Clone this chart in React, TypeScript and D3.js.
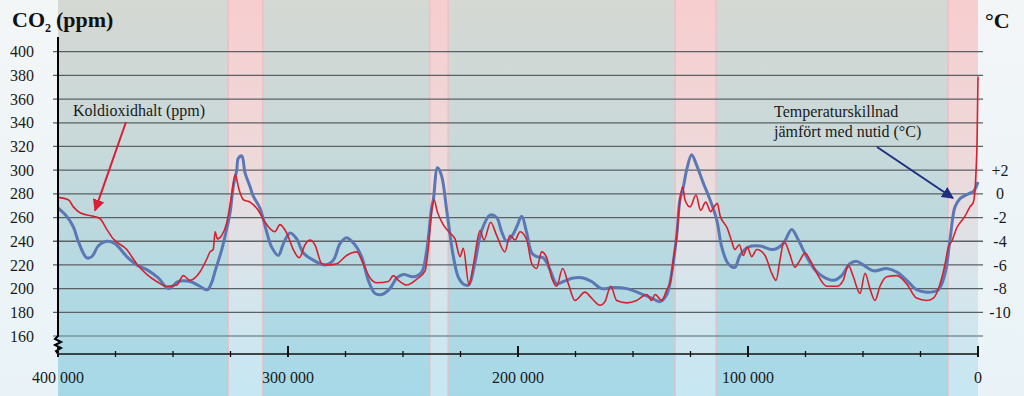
import React from "react";
import * as d3 from "d3";

// ---- data (thousands of years ago) ----
const co2Ago = [399.9,395.5,393.3,390.4,384.7,381.7,378.8,376,370.1,365.8,361.4,357.1,352.7,348.4,345.5,342.6,338.3,335.3,333.9,332.5,331.7,330.7,328.8,326.7,324.5,323,321.2,319.4,316.5,312.9,310,305.7,303.5,300.6,297.7,295.1,292.6,290.4,288.3,285.3,282.5,278.8,274.5,270.1,267.3,264.3,261.4,256.4,254.2,252,248.4,244,240.4,239,237.5,236.5,235.1,232.5,229.6,227.4,225.2,223.8,221.3,219.4,216.5,214.8,211.9,209.3,205.7,203.5,201.3,199.1,196.2,194,191.9,189.7,187.5,185.3,183.2,180.6,178.1,175.2,170.9,168,164.3,162.2,159.7,157.1,152.7,148.4,144,141.9,140.4,137.5,135.3,133.6,132.5,131,129.9,128.4,127.4,125.2,122.6,120.6,118.4,116.2,114.8,113.3,112.2,109,107.1,105.7,103.8,102,100.3,98.4,96.2,92.6,89.7,87.8,86.1,84.3,82,79.6,77.7,75.2,73,70.1,65.8,61.4,58.6,56.4,54.2,51.3,49.1,47,44.8,42.6,39.7,35.3,31,26.7,22.3,19.4,16.5,14.3,12.9,11.4,9.3,5.7,3.5,2,0.9,0.4,0];
const co2Ppm = [277,275,269,264,261,259,250,242,233,221,212,206,202,203,211,207,214,225,231,233,248,242,245,255,279,296,283,275,273,266,256,248,254,247,233,226,237,241,237,221,220,221,228,231,221,209,205,206,211,207,203,208,215,234,266,275,265,254,247,242,227,234,203,220,249,241,256,245,231,245,241,248,241,221,217,231,226,209,202,217,204,190,197,192,186,189,202,190,188,190,195,190,195,190,199,207,224,244,269,286,275,269,279,266,273,265,269,272,262,251,240,233,237,228,235,227,233,228,213,207,224,240,230,218,223,230,224,213,202,202,207,220,210,196,213,200,190,202,210,211,204,192,190,192,204,221,235,240,251,261,269,273,297,325,379];

const tempAgo = [399.9,396.2,393.3,391.2,387.5,385.3,382.5,378.8,375.2,370.1,365.8,361.4,356.4,352,347.7,342.6,338.3,335.1,333.2,331.5,328.8,326.7,325.2,323.8,322.3,321.6,320.1,318.7,316.5,315.1,312.2,309.3,307.1,304.2,302,299.1,296.2,293.3,289,283.9,280.3,277.4,274.5,270.9,268,265.1,262.2,259.3,255.7,252.7,249.9,245.5,241.9,239.8,237.5,236.8,235,233.2,231,228.1,226,223.8,221.5,218.9,215.8,212.2,209.3,207.1,204.9,202.7,200.6,198.4,196.2,194,191.9,189,186.1,183.2,180.3,176,171.6,168,163.6,158.6,152.7,147,141.9,138.3,135.3,133.2,131,129.6,128.1,126.7,124.5,122.3,119.4,116.5,113.6,111.4,108.6,105.7,103.5,99.9,94.8,89,84.7,81,78.1,74.5,70.9,67.3,62.9,59.3,55.7,52.7,49.9,45.5,39.7,35.3,31,26.7,22.3,17.3,14.3,12.2,10,7.8,4.2,2,0];
const tempC = [-1.2,-1.9,-2.8,-4.0,-5.4,-5.3,-4.4,-4.0,-4.2,-5.3,-6.0,-6.4,-7.1,-8.0,-7.4,-7.4,-7.8,-8.1,-7.5,-6.4,-4.7,-3.0,-1.6,0.6,2.0,3.0,3.2,1.8,0.6,-0.2,-1.2,-3.2,-4.5,-5.2,-4.2,-3.3,-3.8,-5.0,-5.6,-6.0,-5.6,-4.2,-3.7,-4.3,-5.3,-7.3,-8.4,-8.5,-8.0,-7.1,-6.8,-7.0,-6.6,-4.9,-1.1,-0.5,2.2,1.5,-1.4,-5.3,-7.0,-7.6,-7.7,-6.0,-3.1,-1.8,-2.0,-3.2,-4.0,-3.6,-2.8,-1.9,-3.3,-5.0,-5.3,-5.4,-6.4,-7.6,-7.4,-7.1,-7.1,-7.4,-8.0,-7.9,-8.0,-8.4,-8.8,-9.1,-8.5,-6.7,-3.5,-0.5,0.6,2.0,3.3,2.4,0.9,-0.5,-2.2,-4.5,-5.9,-6.2,-5.2,-4.5,-4.4,-4.7,-4.2,-3.0,-3.9,-5.3,-6.4,-7.0,-7.3,-6.9,-5.9,-5.7,-6.0,-6.5,-6.3,-6.6,-7.3,-8.1,-8.3,-8.1,-6.7,-3.9,-1.1,-0.4,0.0,0.2,1.0];

// interglacial periods [start, end] in kyr ago
const warmStart = [326, 238.3, 131.7, 13];
const warmEnd = [311, 230.4, 113.9, 0];

const ppmTicks = [160,180,200,220,240,260,280,300,320,340,360,380,400];
const tempTicks = [2,0,-2,-4,-6,-8,-10];
const yearTicks = [400,300,200,100,0];
const yearLabels = ["400 000","300 000","200 000","100 000","0"];
const minorYearTicks = d3.range(0, 401, 25);

const FONT = "'Liberation Serif', 'Times New Roman', serif";

export default function App() {
  const W = 1024, H = 396;
  const x = d3.scaleLinear().domain([400, 0]).range([58, 978]);
  const y = d3.scaleLinear().domain([160, 400]).range([336, 51.7]);
  const yT = d3.scaleLinear().domain([-12, 12]).range([336, 51.7]);
  const axisY = 354;

  const co2 = co2Ago.map((a, i) => [a, co2Ppm[i]] as [number, number]);
  const temp = tempAgo.map((a, i) => [a, tempC[i]] as [number, number]);

  const co2Line = d3.line<[number, number]>()
    .x(d => x(d[0])).y(d => y(d[1])).curve(d3.curveMonotoneX);
  const tempLine = d3.line<[number, number]>()
    .x(d => x(d[0])).y(d => yT(d[1])).curve(d3.curveCatmullRom.alpha(0.5));

  const zx = x(400);
  const zig = `M${zx},37 L${zx},336 L${zx - 3},339 L${zx + 3},342 L${zx - 3},345 L${zx + 3},348 L${zx - 2},351 L${zx},${axisY}`;

  const redArrowFrom: [number, number] = [x(400) + 68, 122];
  const redArrowTo: [number, number] = [x(383.9), y(266)];
  const blueArrowFrom: [number, number] = [877, 147];
  const blueArrowTo: [number, number] = [x(10.9), yT(-0.35)];

  const fs = { fontFamily: FONT } as React.CSSProperties;

  return (
    <div style={{ position: "absolute", left: 0, top: 0 }}>
      <svg width={W} height={H} style={{ display: "block" }}>
        <defs>
          <linearGradient id="page" x1="0" y1="0" x2="0" y2="1">
            <stop offset="0" stopColor="#f3f6f7" />
            <stop offset="1" stopColor="#e9f3f7" />
          </linearGradient>
          <linearGradient id="glacial" x1="0" y1="0" x2="0" y2="1">
            <stop offset="0" stopColor="#d5d8d3" />
            <stop offset="0.35" stopColor="#c9d9d9" />
            <stop offset="0.7" stopColor="#b4d9e2" />
            <stop offset="1" stopColor="#a6d9e8" />
          </linearGradient>
          <linearGradient id="warm" x1="0" y1="0" x2="0" y2="1">
            <stop offset="0" stopColor="#f7cdcf" />
            <stop offset="0.4" stopColor="#eed9da" />
            <stop offset="0.7" stopColor="#d8e5eb" />
            <stop offset="1" stopColor="#c6e7f3" />
          </linearGradient>
          <marker id="arrRed" viewBox="0 0 10 10" refX="9" refY="5" markerWidth="6" markerHeight="6" orient="auto">
            <path d="M0,0 L10,5 L0,10 z" fill="#d81f35" />
          </marker>
          <marker id="arrBlue" viewBox="0 0 10 10" refX="9" refY="5" markerWidth="6" markerHeight="6" orient="auto">
            <path d="M0,0 L10,5 L0,10 z" fill="#1e2f80" />
          </marker>
        </defs>

        <rect x={0} y={0} width={W} height={H} fill="url(#page)" />
        <rect x={x(400)} y={0} width={x(0) - x(400)} height={H} fill="url(#glacial)" />
        {warmStart.map((s, i) => (
          <g key={i}>
            <rect x={x(s)} y={0} width={x(warmEnd[i]) - x(s)} height={H} fill="url(#warm)" />
            <line x1={x(s)} x2={x(s)} y1={0} y2={H} stroke="#f1b9bd" strokeWidth={1.5} opacity={0.7} />
            {warmEnd[i] > 0 && (
              <line x1={x(warmEnd[i])} x2={x(warmEnd[i])} y1={0} y2={H} stroke="#f1b9bd" strokeWidth={1.5} opacity={0.7} />
            )}
          </g>
        ))}

        {ppmTicks.map(v => (
          <line key={v} x1={53} x2={983} y1={y(v)} y2={y(v)}
            stroke={v === 160 ? "#7d929a" : "#5a6166"} strokeWidth={1.3} />
        ))}

        <path d={tempLine(temp) || ""} fill="none" stroke="#5b78b4" strokeWidth={3} strokeLinejoin="round" />
        <path d={co2Line(co2) || ""} fill="none" stroke="#d81f2e" strokeWidth={1.6} strokeLinejoin="round" />

        <path d={zig} fill="none" stroke="#000" strokeWidth={2} />
        <line x1={x(400)} x2={x(0)} y1={axisY} y2={axisY} stroke="#111" strokeWidth={1.5} />
        {minorYearTicks.map(t => (
          <line key={t} x1={x(t)} x2={x(t)}
            y1={t % 100 === 0 ? axisY - 8 : axisY - 3} y2={axisY + 3}
            stroke="#111" strokeWidth={t % 100 === 0 ? 2 : 1.3} />
        ))}

        {ppmTicks.map(v => (
          <text key={v} x={34} y={y(v)} dy="0.35em" textAnchor="end" fontSize={16} fill="#1a1a1a" style={fs}>{v}</text>
        ))}
        {tempTicks.map(t => (
          <text key={t} x={1000} y={yT(t)} dy="0.35em" textAnchor="middle" fontSize={16} fill="#1a1a1a" style={fs}>
            {t > 0 ? `+${t}` : `${t}`}
          </text>
        ))}
        {yearTicks.map((t, i) => (
          <text key={t} x={x(t)} y={383} textAnchor="middle" fontSize={16} fill="#1a1a1a" style={fs}>{yearLabels[i]}</text>
        ))}

        <text x={12} y={27} fontSize={22} fontWeight="bold" fill="#111" style={fs}>
          CO<tspan fontSize={12} dy={5}>2</tspan><tspan dy={-5} dx={5}>(ppm)</tspan>
        </text>
        <text x={985} y={28} fontSize={22} fontWeight="bold" fill="#111" style={fs}>°C</text>

        <text x={73} y={116} fontSize={16} fill="#1a1a1a" style={fs}>Koldioxidhalt (ppm)</text>
        <line x1={redArrowFrom[0]} y1={redArrowFrom[1]} x2={redArrowTo[0]} y2={redArrowTo[1]}
          stroke="#d81f35" strokeWidth={2} markerEnd="url(#arrRed)" />
        <text fontSize={16} fill="#1a1a1a" style={fs}>
          <tspan x={774} y={117}>Temperaturskillnad</tspan>
          <tspan x={774} y={137}>jämfört med nutid (°C)</tspan>
        </text>
        <line x1={blueArrowFrom[0]} y1={blueArrowFrom[1]} x2={blueArrowTo[0]} y2={blueArrowTo[1]}
          stroke="#1e2f80" strokeWidth={2} markerEnd="url(#arrBlue)" />
      </svg>
    </div>
  );
}
